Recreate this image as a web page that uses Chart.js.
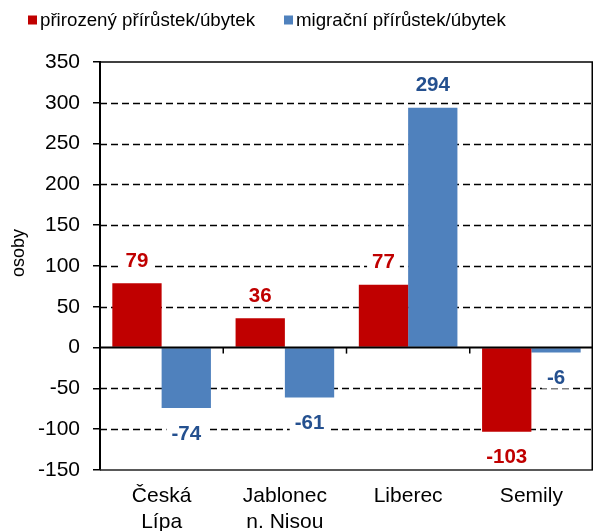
<!DOCTYPE html>
<html><head><meta charset="utf-8">
<script src="https://cdn.jsdelivr.net/npm/chart.js@4"></script>
<style>html,body{margin:0;padding:0;background:#fff}#wrap{width:594px;height:531px}</style>
</head><body><div id="wrap"><canvas id="c" width="594" height="531"></canvas></div>
<script>
const categories = [["Česká","Lípa"],["Jablonec","n. Nisou"],"Liberec","Semily"];
const natural = [79, 36, 77, -103];
const migration = [-74, -61, 294, -6];
const seriesNames = ["přirozený přírůstek/úbytek", "migrační přírůstek/úbytek"];
const yMin = -150, yMax = 350, yStep = 50;
const yTitle = "osoby";

const RED = '#C00000', BLUE = '#4F81BD';
const labelColors = ['#C00000', '#24508F'];
const FONT = '"Liberation Sans", Arial, sans-serif';

const boxPlugin = {
  id: 'boxPlugin',
  beforeDatasetsDraw(chart) {
    const {ctx, chartArea: a, scales: {y}} = chart;
    ctx.save();
    ctx.strokeStyle = '#000';
    ctx.lineWidth = 1.4;
    ctx.setLineDash([7, 4]);
    y.ticks.forEach(t => {
      if (t.value === 0 || t.value === yMin || t.value === yMax) return;
      const py = Math.round(y.getPixelForValue(t.value)) + 0.5;
      ctx.beginPath(); ctx.moveTo(a.left, py); ctx.lineTo(a.right, py); ctx.stroke();
    });
    ctx.restore();
  },
  afterDatasetsDraw(chart) {
    const {ctx, chartArea: a, scales: {x, y}} = chart;
    ctx.save();
    ctx.setLineDash([]);
    ctx.strokeStyle = '#000';
    ctx.lineWidth = 1.5;
    const top = y.getPixelForValue(yMax), bot = y.getPixelForValue(yMin);
    ctx.beginPath(); ctx.moveTo(a.left, top); ctx.lineTo(a.right, top); ctx.stroke();
    ctx.strokeStyle = '#222';
    ctx.beginPath(); ctx.moveTo(a.left, bot); ctx.lineTo(a.right, bot); ctx.stroke();
    ctx.strokeStyle = '#000';
    ctx.beginPath(); ctx.moveTo(a.right - 0.75, top); ctx.lineTo(a.right - 0.75, bot); ctx.stroke();
    const z = y.getPixelForValue(0);
    ctx.lineWidth = 2;
    ctx.beginPath(); ctx.moveTo(a.left, z); ctx.lineTo(a.right, z); ctx.stroke();
    ctx.lineWidth = 1.5;
    for (let i = 0; i < categories.length - 1; i++) {
      const bx = (x.getPixelForValue(i) + x.getPixelForValue(i + 1)) / 2;
      ctx.beginPath(); ctx.moveTo(bx, z); ctx.lineTo(bx, z + 6); ctx.stroke();
    }
    ctx.font = 'bold 20.5px ' + FONT;
    ctx.textAlign = 'center';
    ctx.textBaseline = 'middle';
    chart.data.datasets.forEach((ds, di) => {
      const meta = chart.getDatasetMeta(di);
      meta.data.forEach((el, i) => {
        const v = ds.data[i];
        const txt = String(v);
        const ty = v >= 0 ? el.y - 23 : el.y + 25;
        const w = ctx.measureText(txt).width;
        ctx.fillStyle = '#fff';
        ctx.fillRect(el.x - w / 2 - 5, ty - 11, w + 10, 22);
        ctx.fillStyle = labelColors[di];
        ctx.fillText(txt, el.x, ty + 1);
      });
    });
    ctx.restore();
  },
  afterDraw(chart) {
    const {ctx} = chart;
    ctx.save();
    const items = [{x: 28, c: RED, t: seriesNames[0]}, {x: 284, c: BLUE, t: seriesNames[1]}];
    ctx.font = '18.7px ' + FONT;
    ctx.textBaseline = 'middle';
    ctx.textAlign = 'left';
    items.forEach(it => {
      ctx.fillStyle = it.c;
      ctx.fillRect(it.x, 15.5, 9, 9);
      ctx.fillStyle = '#000';
      ctx.fillText(it.t, it.x + 12, 21);
    });
    ctx.font = '18px ' + FONT;
    ctx.translate(19, 253);
    ctx.rotate(-Math.PI / 2);
    ctx.textAlign = 'center';
    ctx.fillText(yTitle, 0, 0);
    ctx.restore();
  }
};

new Chart(document.getElementById('c'), {
  type: 'bar',
  data: {
    labels: categories,
    datasets: [
      {label: seriesNames[0], data: natural, backgroundColor: RED, borderWidth: 0},
      {label: seriesNames[1], data: migration, backgroundColor: BLUE, borderWidth: 0}
    ]
  },
  options: {
    responsive: false,
    animation: false,
    devicePixelRatio: 1,
    layout: {padding: {top: 62, right: 1, left: 0, bottom: 0}},
    datasets: {bar: {categoryPercentage: 0.8, barPercentage: 1.0}},
    plugins: {legend: {display: false}, tooltip: {enabled: false}},
    scales: {
      x: {
        grid: {display: false},
        border: {display: false},
        ticks: {color: '#000', font: {family: FONT, size: 21, lineHeight: 1.25}, padding: 5, maxRotation: 0, autoSkip: false},
        afterFit(s) { s.height = 61; }
      },
      y: {
        min: yMin, max: yMax,
        grid: {drawOnChartArea: false, drawTicks: true, tickLength: 7, color: '#000', lineWidth: 1.5},
        border: {display: true, color: '#000', width: 2},
        ticks: {stepSize: yStep, color: '#000', font: {family: FONT, size: 21}, padding: 13},
        afterFit(s) { s.width = 100; }
      }
    }
  },
  plugins: [boxPlugin]
});
</script></body></html>
